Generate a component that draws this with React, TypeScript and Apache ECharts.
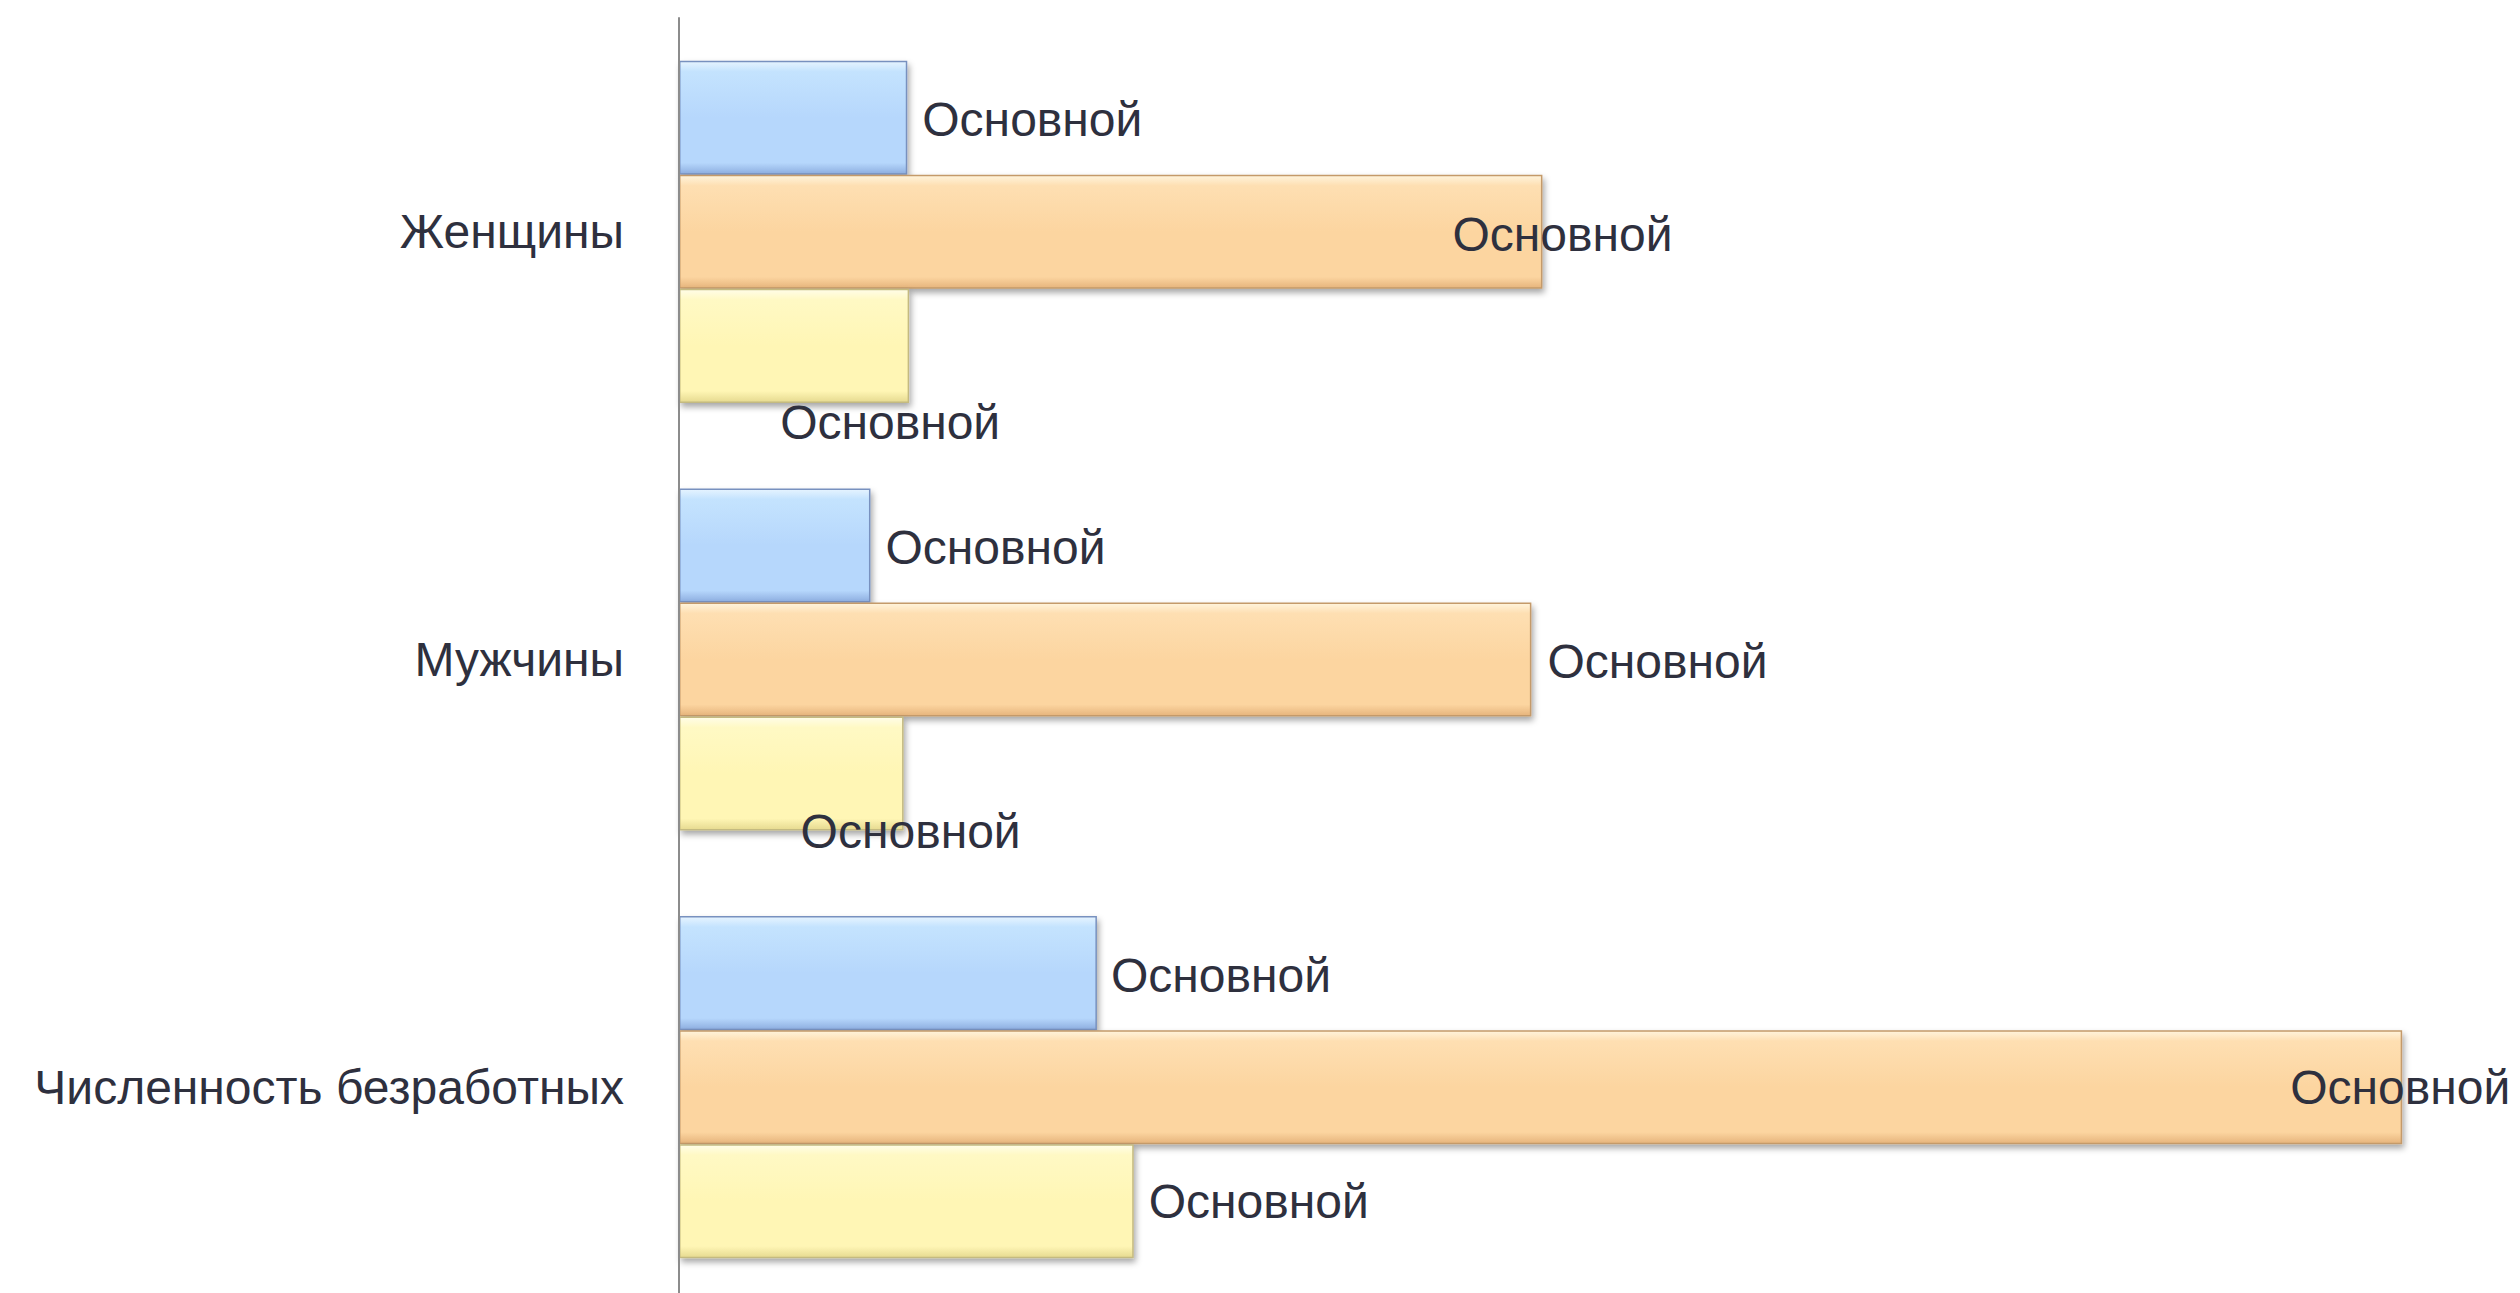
import React, { useEffect, useRef } from "react";
import * as echarts from "echarts";

// categories listed bottom-to-top (ECharts category y axis)
const categories = ["Численность безработных", "Мужчины", "Женщины"];
const labelText = "Основной";
const seriesNames = ["Ряд 1", "Ряд 2", "Ряд 3"];
const blueValues = [22.7, 10.4, 12.4];
const orangeValues = [93.6, 46.3, 46.9];
const yellowValues = [24.7, 12.2, 12.5];
const axisMax = 100;

// label offsets (style): per series, per category
const blueOffsets = [[14, 2], [15, 2], [15, 1.5]];
const orangeOffsets = [[-112, 0.5], [16, 2], [-90, 2.5]];
const yellowOffsets = [[15, 0], [-103, 58], [-129, 76.5]];

const TEXT = "#2e303e";
const FONT = "'Liberation Sans', Arial, sans-serif";

function grad(top: string, light: string, body: string, bottom: string) {
  return new echarts.graphic.LinearGradient(0, 0, 0, 1, [
    { offset: 0, color: top },
    { offset: 0.09, color: light },
    { offset: 0.5, color: body },
    { offset: 0.9, color: body },
    { offset: 1, color: bottom },
  ]);
}

function makeSeries(name: string, values: number[], offsets: number[][], color: any, border: string) {
  return {
    name,
    type: "bar",
    barGap: "0%",
    barCategoryGap: "20%",
    z: 2,
    itemStyle: {
      color,
      borderColor: border,
      borderWidth: 1.5,
      shadowColor: "rgba(0,0,0,0.35)",
      shadowBlur: 6,
      shadowOffsetX: 2,
      shadowOffsetY: 4,
    },
    data: values.map((v, i) => ({
      value: v,
      label: {
        show: true,
        position: "right",
        distance: 0,
        offset: offsets[i],
        formatter: labelText,
        color: TEXT,
        fontSize: 48,
        fontFamily: FONT,
      },
    })),
  };
}

export default function App() {
  const ref = useRef<HTMLDivElement>(null);
  useEffect(() => {
    if (!ref.current) return;
    const chart = echarts.init(ref.current, null, { renderer: "svg" });
    chart.setOption({
      animation: false,
      backgroundColor: "#ffffff",
      grid: { left: 679, top: 18, height: 1283, right: 0, outerBoundsMode: "none", containLabel: false },
      xAxis: {
        type: "value",
        min: 0,
        max: axisMax,
        show: false,
      },
      yAxis: {
        type: "category",
        data: categories,
        z: 5,
        axisLine: { show: true, lineStyle: { color: "#8c8c8c", width: 2 } },
        axisTick: { show: false },
        axisLabel: {
          margin: 55,
          color: TEXT,
          fontSize: 48,
          fontFamily: FONT,
        },
      },
      series: [
        makeSeries(seriesNames[0], blueValues, blueOffsets, grad("#e6f4ff", "#c4e3fe", "#b6d7fc", "#8eaee0"), "#7891bf"),
        makeSeries(seriesNames[1], orangeValues, orangeOffsets, grad("#fff4dc", "#fedfb2", "#fcd5a0", "#e6b47c"), "#c49a6a"),
        makeSeries(seriesNames[2], yellowValues, yellowOffsets, grad("#fffde8", "#fff9c4", "#fff6b5", "#e6da90"), "#c4ba80"),
      ],
    });
    return () => chart.dispose();
  }, []);
  return (
    <div
      ref={ref}
      style={{ position: "absolute", left: 0, top: 0, width: 2520, height: 1293, overflow: "hidden" }}
    />
  );
}
